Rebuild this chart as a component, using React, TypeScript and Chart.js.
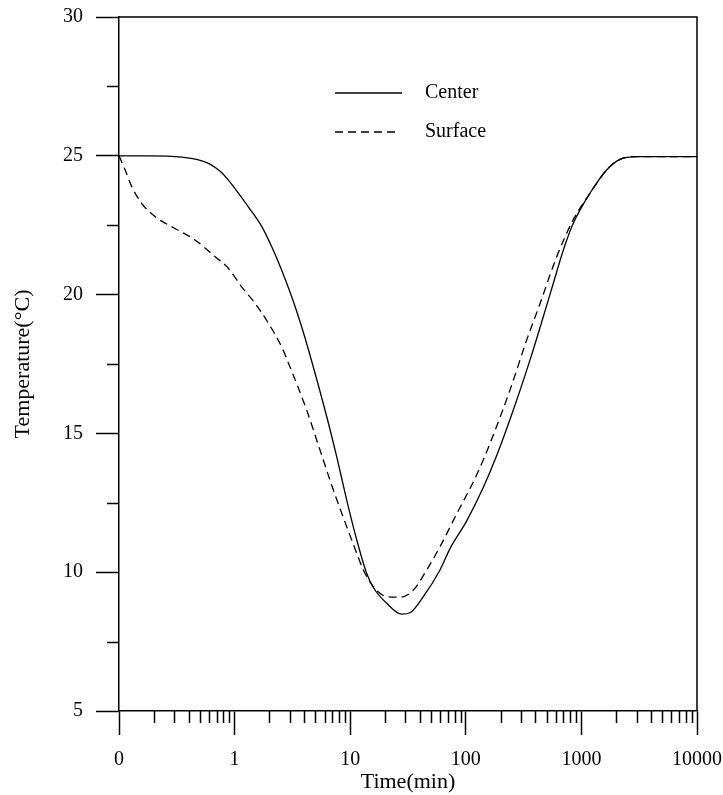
import React, { useEffect, useRef } from 'react';
import { Chart, registerables } from 'chart.js';

Chart.register(...registerables);

// ---- data ----
const centerTime = [0.1, 0.18, 0.35, 0.52, 0.6, 0.68, 0.78, 0.88, 1.31, 1.72, 2.09, 2.55, 3.12, 3.8, 4.4, 6.27, 7.64, 9.33, 11.4, 13.9, 15.85, 20.7, 27.9, 32.9, 42.9, 59.8, 73, 101.8, 141.6, 185, 257.6, 359, 468, 571, 697, 851, 1186, 1655, 2159, 3008, 10000];
const centerTemp = [25.0, 25.0, 24.95, 24.82, 24.72, 24.58, 24.38, 24.13, 23.17, 22.45, 21.73, 20.89, 19.92, 18.84, 17.95, 15.6, 14.16, 12.6, 11.16, 9.95, 9.45, 8.88, 8.49, 8.54, 9.12, 10.08, 10.85, 11.85, 13.05, 14.2, 15.84, 17.64, 19.2, 20.4, 21.6, 22.57, 23.65, 24.49, 24.87, 24.97, 24.97];

const surfaceTime = [0.1, 0.113, 0.129, 0.157, 0.205, 0.305, 0.454, 0.676, 0.882, 1.15, 1.5, 1.96, 2.55, 3.01, 4.2, 5.48, 7.15, 9.33, 11.4, 13.0, 15.85, 20.7, 27, 35.2, 45.9, 59.8, 83.4, 124, 162, 241, 336, 439, 611, 851, 1186, 1655, 2159, 3008, 10000];
const surfaceTemp = [25.0, 24.49, 23.89, 23.29, 22.81, 22.38, 21.97, 21.37, 20.95, 20.28, 19.69, 18.97, 18.12, 17.4, 15.84, 14.4, 12.96, 11.64, 10.68, 10.08, 9.48, 9.12, 9.1, 9.36, 10.08, 10.92, 12.1, 13.5, 14.64, 16.56, 18.36, 19.68, 21.36, 22.7, 23.65, 24.49, 24.87, 24.97, 24.97];

const seriesNames = ['Center', 'Surface'];

const xMajorTicks = [0.1, 1, 10, 100, 1000, 10000];
const xTickLabels = ['0', '1', '10', '100', '1000', '10000'];
const xMinorMultipliers = [2, 3, 4, 5, 6, 7, 8, 9];
const yMajorTicks = [5, 10, 15, 20, 25, 30];
const yTickLabels = ['5', '10', '15', '20', '25', '30'];
const yMinorTicks = [7.5, 12.5, 17.5, 22.5, 27.5];

const xAxisTitle = 'Time(min)';
const yAxisTitle = 'Temperature(\u00B0C)';

const FONT = '"Liberation Serif", "Times New Roman", serif';

const xMinorTicks: number[] = [];
for (let i = 0; i < xMajorTicks.length - 1; i++) {
  for (const m of xMinorMultipliers) xMinorTicks.push(xMajorTicks[i] * m);
}

const zeroPad = (scale: any) => {
  scale.paddingTop = 0;
  scale.paddingBottom = 0;
  scale.paddingLeft = 0;
  scale.paddingRight = 0;
};

const extrasPlugin = {
  id: 'extras',
  afterDraw(chart: any) {
    const { ctx, chartArea: a, scales } = chart;
    const xs = scales.x;
    const ys = scales.y;
    ctx.save();
    ctx.strokeStyle = '#000';
    ctx.lineWidth = 1.5;
    // top + right frame
    ctx.beginPath();
    ctx.moveTo(a.left, a.top);
    ctx.lineTo(a.right, a.top);
    ctx.lineTo(a.right, a.bottom);
    ctx.stroke();
    // minor ticks
    ctx.beginPath();
    for (const v of xMinorTicks) {
      const px = Math.round(xs.getPixelForValue(v)) + 0.5;
      ctx.moveTo(px, a.bottom);
      ctx.lineTo(px, a.bottom + 12);
    }
    for (const v of yMinorTicks) {
      const py = Math.round(ys.getPixelForValue(v)) + 0.5;
      ctx.moveTo(a.left, py);
      ctx.lineTo(a.left - 12, py);
    }
    ctx.stroke();
    // legend
    const lx0 = 335, lx1 = 402, tx = 425;
    const rows = [93, 132];
    ctx.lineWidth = 1.3;
    rows.forEach((ry, i) => {
      ctx.beginPath();
      ctx.setLineDash(i === 1 ? [8, 5] : []);
      ctx.moveTo(lx0, ry);
      ctx.lineTo(i === 1 ? 398 : lx1, ry);
      ctx.stroke();
    });
    ctx.setLineDash([]);
    ctx.fillStyle = '#000';
    ctx.font = `20px ${FONT}`;
    ctx.textAlign = 'left';
    ctx.textBaseline = 'middle';
    rows.forEach((ry, i) => ctx.fillText(seriesNames[i], tx, ry));
    ctx.restore();
  },
};

export default function App() {
  const ref = useRef<HTMLCanvasElement | null>(null);
  useEffect(() => {
    document.body.style.margin = '0';
    const canvas = ref.current;
    if (!canvas) return;
    const chart = new Chart(canvas, {
      type: 'line',
      data: {
        datasets: [
          {
            label: seriesNames[0],
            data: centerTime.map((t, i) => ({ x: t, y: centerTemp[i] })),
            borderColor: '#000',
            borderWidth: 1.3,
            pointRadius: 0,
            cubicInterpolationMode: 'monotone',
            fill: false,
          },
          {
            label: seriesNames[1],
            data: surfaceTime.map((t, i) => ({ x: t, y: surfaceTemp[i] })),
            borderColor: '#000',
            borderWidth: 1.3,
            borderDash: [8, 5],
            pointRadius: 0,
            cubicInterpolationMode: 'monotone',
            fill: false,
          },
        ],
      },
      options: {
        responsive: false,
        animation: false,
        devicePixelRatio: 1,
        layout: { padding: { top: 17, right: 26, left: 0, bottom: 0 } },
        plugins: { legend: { display: false }, tooltip: { enabled: false } },
        scales: {
          x: {
            type: 'logarithmic',
            position: 'bottom',
            min: 0.1,
            max: 10000,
            afterBuildTicks: (scale: any) => {
              scale.ticks = xMajorTicks.map((v) => ({ value: v, major: true }));
            },
            afterFit: (scale: any) => {
              scale.height = 84;
              zeroPad(scale);
            },
            ticks: {
              autoSkip: false,
              maxRotation: 0,
              minRotation: 0,
              color: '#000',
              padding: 13,
              font: { family: FONT, size: 20 },
              callback: (value: any, index: number) => xTickLabels[index] ?? '',
            },
            grid: {
              drawOnChartArea: false,
              drawTicks: true,
              tickLength: 24,
              tickColor: '#000',
              tickWidth: 1.5,
            },
            border: { display: true, color: '#000', width: 1.5 },
            title: {
              display: true,
              text: xAxisTitle,
              color: '#000',
              font: { family: FONT, size: 22 },
              padding: { top: 0, bottom: 0 },
            },
          },
          y: {
            type: 'linear',
            position: 'left',
            min: 5,
            max: 30,
            afterBuildTicks: (scale: any) => {
              scale.ticks = yMajorTicks.map((v) => ({ value: v, major: true }));
            },
            afterFit: (scale: any) => {
              scale.width = 119;
              zeroPad(scale);
            },
            ticks: {
              color: '#000',
              padding: 13,
              font: { family: FONT, size: 20 },
              callback: (value: any, index: number) => yTickLabels[index] ?? '',
            },
            grid: {
              drawOnChartArea: false,
              drawTicks: true,
              tickLength: 23,
              tickColor: '#000',
              tickWidth: 1.5,
            },
            border: { display: true, color: '#000', width: 1.5 },
            title: {
              display: true,
              text: yAxisTitle,
              color: '#000',
              font: { family: FONT, size: 22 },
              padding: { top: 10, bottom: 0 },
            },
          },
        },
      },
      plugins: [extrasPlugin],
    } as any);
    return () => chart.destroy();
  }, []);
  return (
    <div style={{ width: 723, height: 795, background: '#fff' }}>
      <canvas ref={ref} width={723} height={795} style={{ display: 'block' }} />
    </div>
  );
}
